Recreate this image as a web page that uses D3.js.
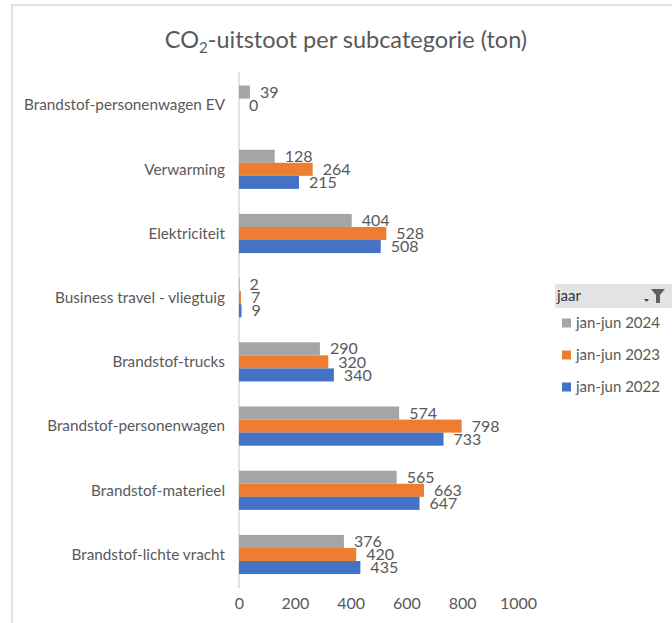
<!DOCTYPE html>
<html>
<head>
<meta charset="utf-8">
<script src="https://cdn.jsdelivr.net/npm/d3@7"></script>
<style>
  html, body { margin: 0; padding: 0; background: #fff; }
  svg { display: block; font-family: Lato, "Open Sans", sans-serif; }
</style>
</head>
<body>
<svg id="chart" width="672" height="623"></svg>
<script>
// Subcategories, top to bottom
const categories = [
  "Brandstof-personenwagen EV",
  "Verwarming",
  "Elektriciteit",
  "Business travel - vliegtuig",
  "Brandstof-trucks",
  "Brandstof-personenwagen",
  "Brandstof-materieel",
  "Brandstof-lichte vracht"
];

// Series, in the order they appear inside each group
const seriesNames = ["jan-jun 2024", "jan-jun 2023", "jan-jun 2022"];
const values2024 = [39, 128, 404, 2, 290, 574, 565, 376];
const values2023 = [0, 264, 528, 7, 320, 798, 663, 420];
const values2022 = [null, 215, 508, 9, 340, 733, 647, 435];
const seriesColors = ["#a5a5a5", "#ed7d31", "#4472c4"];

const xTicks = [0, 200, 400, 600, 800, 1000];

const series = [values2024, values2023, values2022];
const rows = [];
categories.forEach((c, i) => {
  series.forEach((vals, s) => {
    if (vals[i] !== null) rows.push({ category: c, series: seriesNames[s], value: vals[i], color: seriesColors[s] });
  });
});

const svg = d3.select("#chart");
const textColor = "#595959";
const lineColor = "#d9d9d9";

// Outer frame of the chart area
svg.append("path")
  .attr("d", "M12,623 L12,5 L672,5")
  .attr("fill", "none")
  .attr("stroke", lineColor)
  .attr("stroke-width", 1.5);

// Title with subscript
const title = svg.append("text")
  .attr("x", 346).attr("y", 48)
  .attr("text-anchor", "middle")
  .attr("fill", textColor)
  .style("font-size", "23.5px");
title.append("tspan").text("CO");
title.append("tspan").text("2").attr("dy", 5).style("font-size", "15px");
title.append("tspan").text("-uitstoot per subcategorie (ton)").attr("dy", -5);

const x = d3.scaleLinear().domain([0, 1000]).range([239, 518]);
const y = d3.scaleBand().domain(categories).range([73, 586.6])
  .paddingInner(0.39).paddingOuter(0.195);
const ySub = d3.scaleBand().domain(seriesNames).range([0, y.bandwidth()]);

// Vertical category axis line
svg.append("line")
  .attr("x1", x(0)).attr("x2", x(0))
  .attr("y1", 72).attr("y2", 588)
  .attr("stroke", lineColor).attr("stroke-width", 1.5);

// Category labels
svg.append("g").selectAll("text")
  .data(categories).join("text")
  .attr("x", 225)
  .attr("y", d => y(d) + y.bandwidth() / 2)
  .attr("dy", "0.35em")
  .attr("text-anchor", "end")
  .attr("fill", textColor)
  .style("font-size", "15.3px")
  .text(d => d);

// Value axis tick labels
const xAxis = d3.axisBottom(x).tickValues(xTicks).tickFormat(d3.format("d")).tickSize(0).tickPadding(0);
const gx = svg.append("g").attr("transform", "translate(0,598)").call(xAxis);
gx.select(".domain").remove();
gx.selectAll("text")
  .attr("fill", textColor)
  .style("font-size", "16px")
  .style("font-family", "Lato, 'Open Sans', sans-serif");

// Bars
svg.append("g").selectAll("rect")
  .data(rows).join("rect")
  .attr("x", x(0))
  .attr("y", d => y(d.category) + ySub(d.series))
  .attr("width", d => x(d.value) - x(0))
  .attr("height", ySub.bandwidth())
  .attr("fill", d => d.color);

// Value labels
svg.append("g").selectAll("text")
  .data(rows).join("text")
  .attr("x", d => x(d.value) + 10)
  .attr("y", d => y(d.category) + ySub(d.series) + ySub.bandwidth() / 2)
  .attr("dy", "0.35em")
  .attr("fill", textColor)
  .style("font-size", "16px")
  .text(d => d.value);

// Legend with filter header
const lg = svg.append("g");
lg.append("rect")
  .attr("x", 555).attr("y", 284).attr("width", 117).attr("height", 24)
  .attr("fill", "#e3e3e3");
lg.append("text")
  .attr("x", 557).attr("y", 296).attr("dy", "0.35em")
  .attr("fill", "#333")
  .style("font-size", "15px")
  .text("jaar");
// dropdown arrow and funnel icon
lg.append("path").attr("d", "M644,299 L649,299 L646.5,302 Z").attr("fill", "#444");
lg.append("path")
  .attr("d", "M651,289 L665,289 L660,295 L660,303 L656,303 L656,295 Z")
  .attr("fill", "#5f5f5f");

const legendY = [323, 355, 387];
seriesNames.forEach((name, i) => {
  lg.append("rect")
    .attr("x", 562).attr("y", legendY[i] - 4.5).attr("width", 9).attr("height", 9)
    .attr("fill", seriesColors[i]);
  lg.append("text")
    .attr("x", 576).attr("y", legendY[i]).attr("dy", "0.35em")
    .attr("fill", textColor)
    .style("font-size", "15px")
    .text(name);
});
</script>
</body>
</html>
